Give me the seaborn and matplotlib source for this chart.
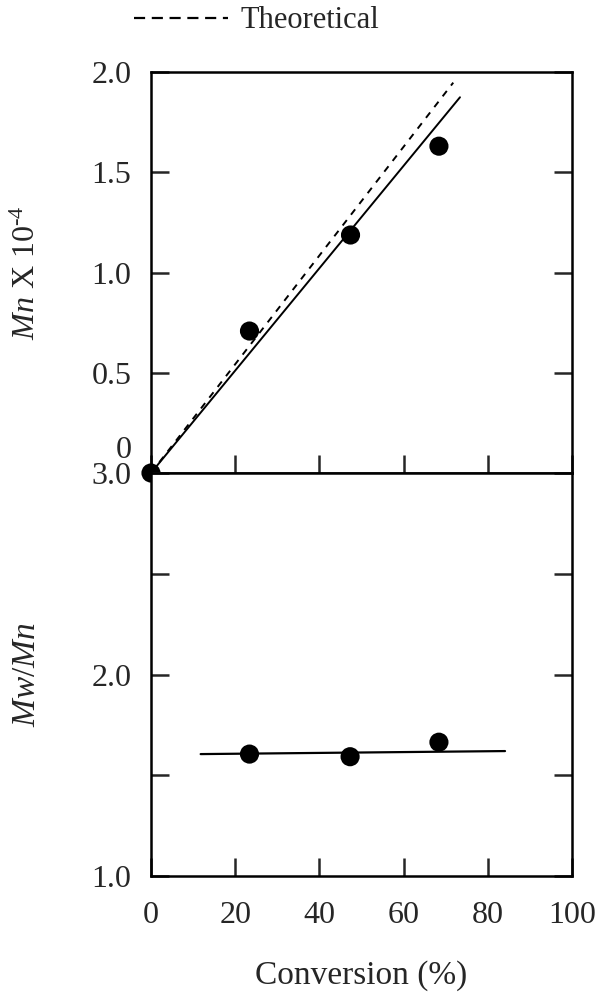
import matplotlib

matplotlib.use("Agg")
import matplotlib.pyplot as plt
import matplotlib.transforms as mtransforms
from matplotlib.lines import Line2D
import pandas as pd
import seaborn as sns

# data
conversion = [0.0, 23.4, 47.4, 68.4]
mn = [0.0, 0.708, 1.187, 1.63]
conversion_pdi = [23.4, 47.3, 68.4]
pdi = [1.605, 1.592, 1.664]

# fitted / theoretical lines (end points)
fit_x = [0.0, 73.4]
fit_mn = [0.0, 1.874]
theo_x = [0.0, 71.8]
theo_mn = [0.0, 1.947]
pdi_fit_x = [11.8, 84.1]
pdi_fit = [1.605, 1.62]

sns.set_theme(style="ticks")
plt.rcParams["font.family"] = ["Liberation Serif", "DejaVu Serif"]
plt.rcParams["mathtext.fontset"] = "custom"
plt.rcParams["mathtext.rm"] = "Liberation Serif"
plt.rcParams["mathtext.it"] = "Liberation Serif:italic"
plt.rcParams["axes.linewidth"] = 1.8

fig = plt.figure(figsize=(6.02, 10), dpi=100)
ax1 = fig.add_axes([0.2508, 0.527, 0.6993, 0.401])
ax2 = fig.add_axes([0.2508, 0.124, 0.6993, 0.403])

df_top = pd.DataFrame({"conv": conversion, "mn": mn})
df_bot = pd.DataFrame({"conv": conversion_pdi, "pdi": pdi})

# top panel
sns.lineplot(x=theo_x, y=theo_mn, ax=ax1, color="black", lw=1.4,
             linestyle=(0, (3.5, 3.5)))
sns.lineplot(x=fit_x, y=fit_mn, ax=ax1, color="black", lw=1.4)
sns.scatterplot(data=df_top, x="conv", y="mn", ax=ax1, color="black",
                s=190, edgecolor="none", zorder=5, clip_on=False)

ax1.set_xlim(0, 100)
ax1.set_ylim(0, 2.0)
ax1.set_xticks([0, 20, 40, 60, 80, 100])
ax1.set_yticks([0, 0.5, 1.0, 1.5, 2.0])
ax1.set_yticklabels(["0", "0.5", "1.0", "1.5", "2.0"])
ax1.tick_params(axis="both", direction="in", length=13, width=1.8,
                labelsize=23, pad=14, right=True, labelbottom=False)
ax1.set_xlabel("")
ax1.set_ylabel(r"$Mn$ X 10$^{\mathrm{‐4}}$", fontsize=23)
ax1.yaxis.set_label_coords(-0.26, 0.5)

# push the "0" label up so it clears the "3.0" below it
lab0 = ax1.get_yticklabels()[0]
lab0.set_transform(lab0.get_transform()
                   + mtransforms.ScaledTranslation(0, 19 / 72, fig.dpi_scale_trans))

# bottom panel
sns.lineplot(x=pdi_fit_x, y=pdi_fit, ax=ax2, color="black", lw=1.6)
sns.scatterplot(data=df_bot, x="conv", y="pdi", ax=ax2, color="black",
                s=190, edgecolor="none", zorder=5)

ax2.set_xlim(0, 100)
ax2.set_ylim(1.0, 3.0)
ax2.set_xticks([0, 20, 40, 60, 80, 100])
ax2.set_yticks([1.0, 1.5, 2.0, 2.5, 3.0])
ax2.set_yticklabels(["1.0", "", "2.0", "", "3.0"])
ax2.tick_params(axis="y", direction="in", length=13, width=1.8,
                labelsize=23, pad=14, right=True)
ax2.tick_params(axis="x", direction="in", length=13, width=1.8,
                labelsize=23, pad=18)
ax2.set_xlabel("Conversion (%)", fontsize=24, labelpad=22)
ax2.set_ylabel(r"$Mw/Mn$", fontsize=24)
ax2.yaxis.set_label_coords(-0.26, 0.5)

for ax in (ax1, ax2):
    for sp in ax.spines.values():
        sp.set_visible(True)
        sp.set_color("black")

handle = Line2D([], [], color="black", lw=1.6, linestyle=(0, (5, 3)))
fig.legend([handle], ["Theoretical"], loc="center",
           bbox_to_anchor=(0.426, 0.979), frameon=False, fontsize=22,
           borderpad=0, handlelength=3.1, handletextpad=0.4)

fig.savefig("out.png", dpi=100)
